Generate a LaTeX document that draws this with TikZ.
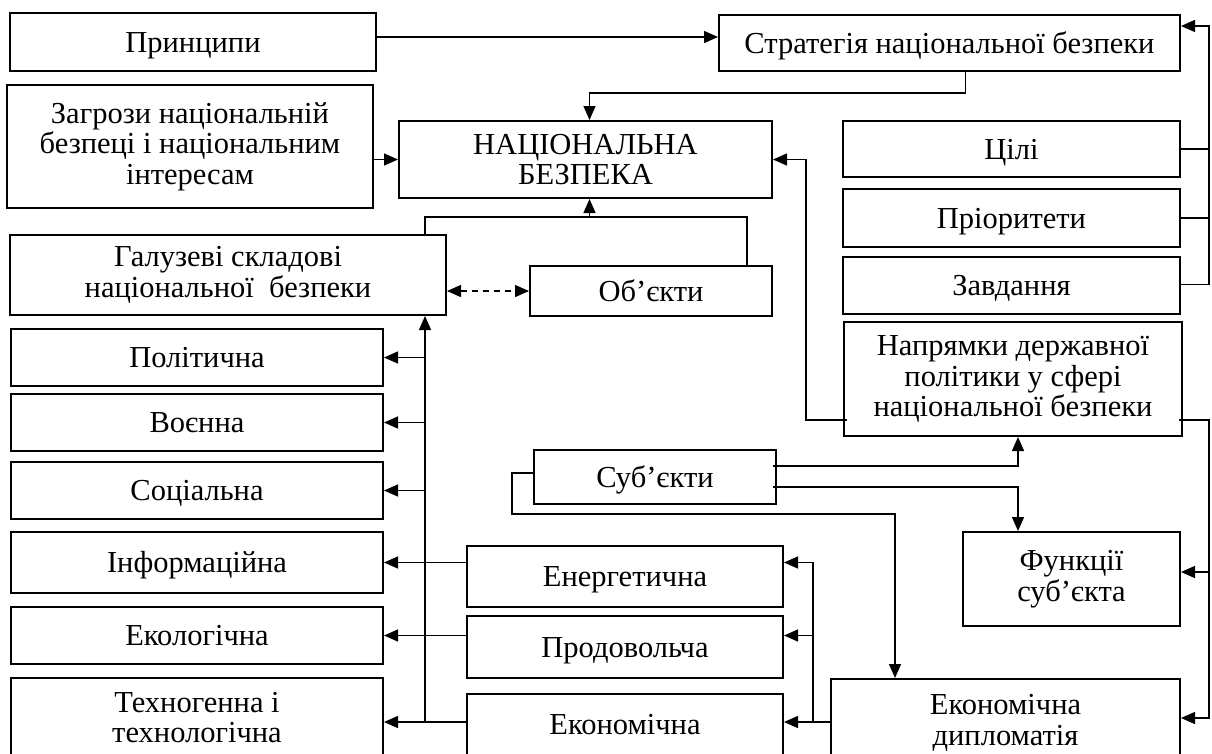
\documentclass[tikz,border=0pt]{standalone}
\usepackage{fontspec}
\setmainfont{Liberation Serif}
\usetikzlibrary{arrows.meta}

\tikzset{
    box/.style={draw, line width=2pt, align=center, inner sep=0pt,
        font=\fontsize{30.5}{30.5}\selectfont},
    one/.style={box, text height=21pt, text depth=1pt},
    sz/.style 2 args={minimum width=#1pt, minimum height=#2pt},
    arr/.style={line width=1.4pt, -{Triangle[length=14pt,width=12pt]}},
    lnk/.style={line width=1.4pt}
}

\begin{document}
\begin{tikzpicture}[x=1pt, y=-1pt]
                \useasboundingbox (0,0) rectangle (1212,753);

                \node[one, sz={366}{58}] (princ) at (193,42) {Принципи};
                \node[box, sz={366}{123}] (zagr) at (190,146.5) {Загрози національній\\безпеці і національним\\інтересам};
                \node[box, sz={373}{77}] (nb) at (585.5,159.5) {НАЦІОНАЛЬНА\\БЕЗПЕКА};
                \node[one, sz={461}{56}] (strat) at (949.5,43) {Стратегія національної безпеки};

                \node[one, sz={337}{56}] (cili) at (1011.5,149) {Цілі};
                \node[one, sz={337}{58}] (prior) at (1011.5,218) {Пріоритети};
                \node[one, sz={337}{57}] (zavd) at (1011.5,285.5) {Завдання};
                \node[box, sz={338}{114}] (napr) at (1013,379) {Напрямки державної\\політики у сфері\\національної безпеки};

                \node[box, sz={436}{80}] (galuz) at (228,275) {Галузеві складові\\національної~ безпеки};
                \node[one, sz={242}{50}] (obj) at (651,291) {Об’єкти};

                \node[one, sz={372}{57}] (polit) at (197,357.5) {Політична};
                \node[one, sz={372}{57}] (voen) at (197,422.5) {Воєнна};
                \node[one, sz={372}{57}] (soc) at (197,490.5) {Соціальна};
                \node[one, sz={372}{61}] (inform) at (197,562.5) {Інформаційна};
                \node[one, sz={372}{57}] (ekol) at (197,635.5) {Екологічна};
                \node[box, sz={372}{92}, text depth=13pt] (tekhn) at (197,724) {Техногенна і\\технологічна};

                \node[one, sz={242}{54}] (subj) at (655,477) {Суб’єкти};
                \node[one, sz={316}{61}] (energ) at (625,576.5) {Енергетична};
                \node[one, sz={316}{62}] (prod) at (625,647) {Продовольча};
                \node[one, sz={316}{66}, text depth=7pt] (ekon) at (625,727) {Економічна};
                \node[box, sz={217}{94}] (funk) at (1071.5,579) {Функції\\суб’єкта};
                \node[box, sz={349}{88}] (dipl) at (1005.5,723) {Економічна\\дипломатія};

                % top part
                \draw[arr] ([yshift=5pt]princ.east) -- ([yshift=5pt]princ.east -| strat.west);
                \draw[arr] ([xshift=16pt]strat.south) -- ++(0,21) -| ([xshift=4pt]nb.north);
                \draw[arr] (zagr.east |- nb.west) -- (nb.west);

                % goals, priorities, tasks
                \draw[lnk] (cili.east) -- ++(28,0);
                \draw[lnk] (prior.east) -- ++(28,0);
                \draw[arr] ([yshift=1pt]zavd.east) -- ++(28,0) |- ([yshift=17pt]strat.east);

                \draw[arr] ([yshift=-41pt,xshift=4pt]napr.west) -- ++(-41,0) |- (nb.east);

                % branches and objects
                \draw[lnk] ([xshift=197pt]galuz.north) |- ([yshift=-18pt]nb.south) -| ([xshift=96pt]obj.north);
                \draw[arr] ([xshift=4pt,yshift=-18pt]nb.south) -- ([xshift=4pt]nb.south);
                \draw[lnk, dashed, dash pattern=on 6pt off 5pt,
                    {Triangle[length=14pt,width=12pt]}-{Triangle[length=14pt,width=12pt]}]
                    (obj.west -| galuz.east) -- (obj.west);

                \coordinate (lbus) at ([xshift=197pt]galuz.south);
                \coordinate (low) at ([yshift=5pt]ekon.west);
                \draw[arr] (low -| lbus) -- (lbus);
                \foreach \n in {polit,voen,soc}
                    \draw[arr] (lbus |- \n.east) -- (\n.east);
                \draw[arr] (inform.east -| energ.west) -- (inform.east);
                \draw[arr] (ekol.east -| prod.west) -- (ekol.east);
                \draw[arr] (low) -- (low -| tekhn.east);

                % economic diplomacy
                \draw[arr] (low -| dipl.west) -- (low -| ekon.east);
                \draw[arr] ([xshift=-17pt]dipl.west |- low) |- (energ.east |- inform.east);
                \draw[arr] ([xshift=-17pt]dipl.west |- ekol.east) -- (prod.east |- ekol.east);

                % directions to functions and diplomacy
                \draw[arr] ([yshift=-41pt,xshift=-4pt]napr.east) -- ++(30,0) |- ([yshift=5pt]dipl.east);
                \draw[arr] ([xshift=28pt,yshift=7pt]funk.east) -- ([yshift=7pt]funk.east);

                % subjects
                \draw[arr] ([yshift=11pt,xshift=-4pt]subj.east) -| ([xshift=5pt]napr.south);
                \draw[arr] ([yshift=-10pt,xshift=-4pt]subj.east) -| ([xshift=-53.5pt]funk.north);
                \draw[arr] ([yshift=4pt]subj.west) -- ++(-21,0) -- ++(0,41) -| ([xshift=-110.5pt]dipl.north);
            \end{tikzpicture}
\end{document}
